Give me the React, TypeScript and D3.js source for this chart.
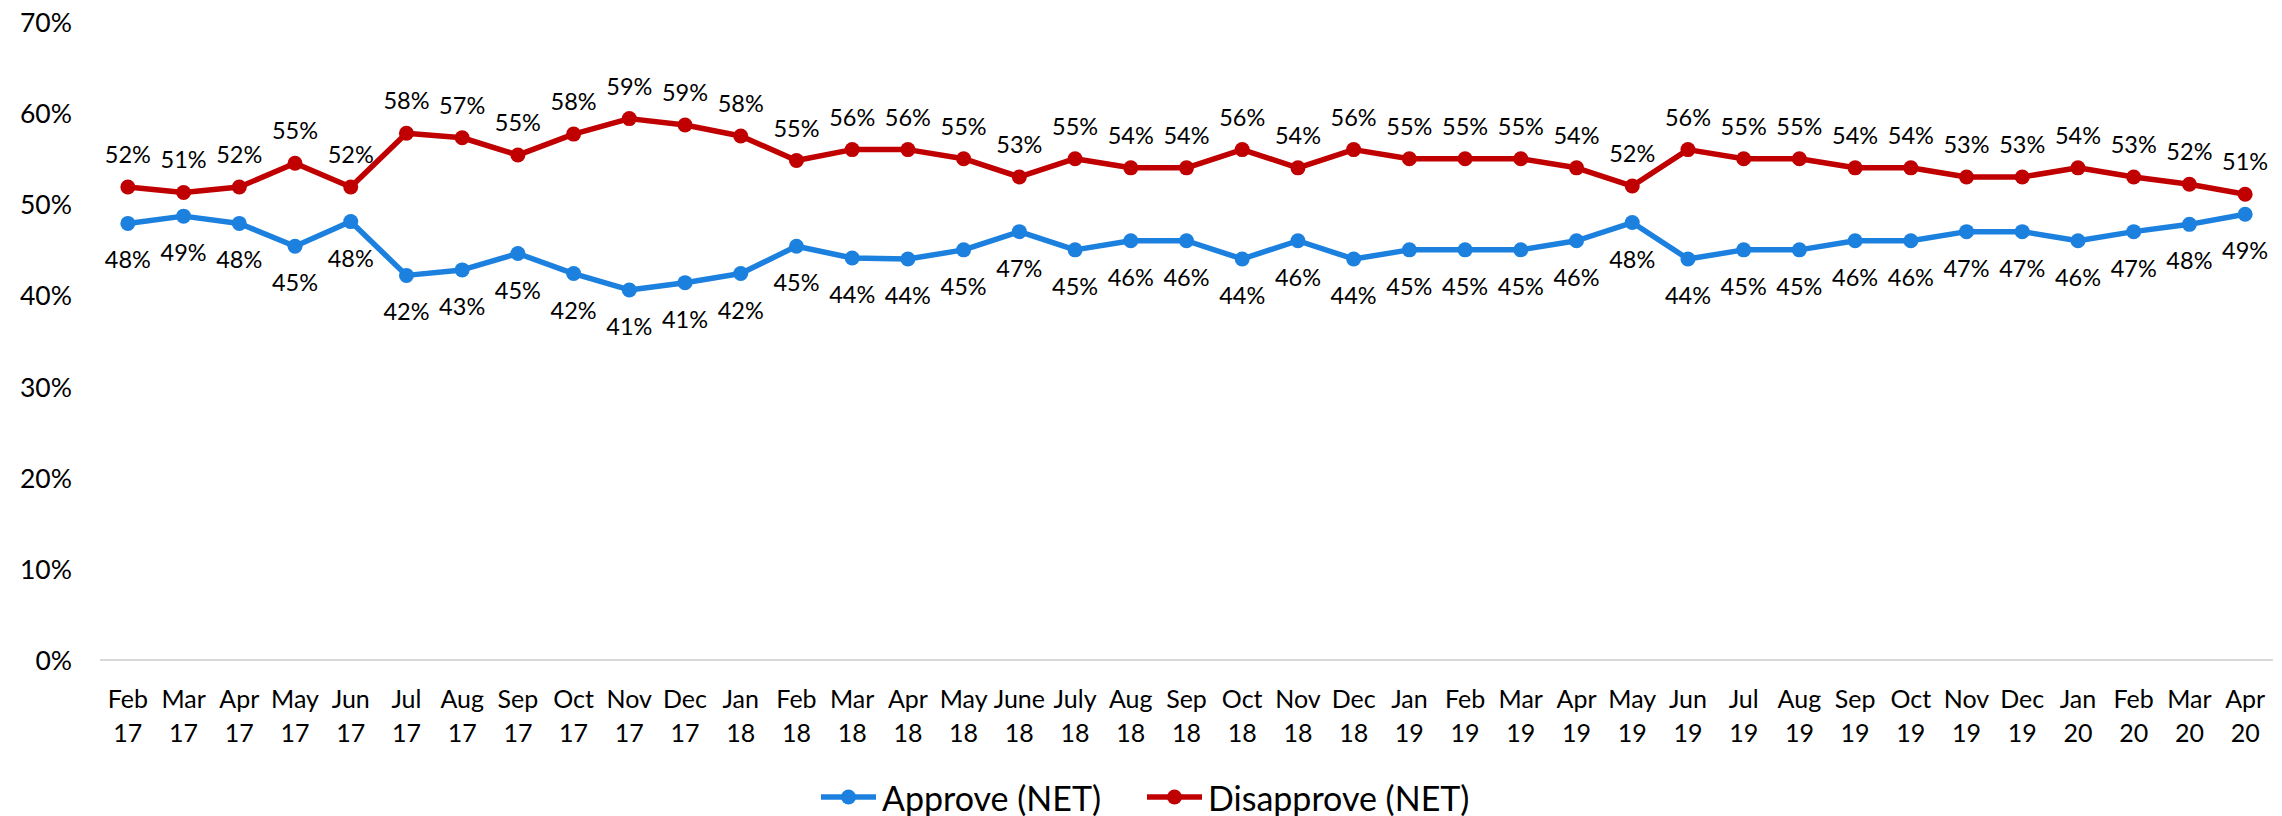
import React from "react";
import * as d3 from "d3";

const categories = [
  "Feb 17", "Mar 17", "Apr 17", "May 17", "Jun 17", "Jul 17", "Aug 17", "Sep 17", "Oct 17", "Nov 17", "Dec 17", "Jan 18",
  "Feb 18", "Mar 18", "Apr 18", "May 18", "June 18", "July 18", "Aug 18", "Sep 18", "Oct 18", "Nov 18", "Dec 18", "Jan 19",
  "Feb 19", "Mar 19", "Apr 19", "May 19", "Jun 19", "Jul 19", "Aug 19", "Sep 19", "Oct 19", "Nov 19", "Dec 19", "Jan 20",
  "Feb 20", "Mar 20", "Apr 20",
];

const approve = [
  47.9, 48.7, 47.9, 45.4, 48.1, 42.2, 42.8, 44.6, 42.4, 40.6, 41.4, 42.4,
  45.4, 44.1, 44, 45, 47, 45, 46, 46, 44, 46, 44, 45,
  45, 45, 46, 48, 44, 45, 45, 46, 46, 47, 47, 46,
  47, 47.8, 48.9,
];

const disapprove = [
  51.9, 51.3, 51.9, 54.5, 51.9, 57.8, 57.3, 55.4, 57.7, 59.4, 58.7, 57.5,
  54.8, 56, 56, 55, 53, 55, 54, 54, 56, 54, 56, 55,
  55, 55, 54, 52, 56, 55, 55, 54, 54, 53, 53, 54,
  53, 52.2, 51.1,
];

const yTicks = [0, 10, 20, 30, 40, 50, 60, 70];

const seriesNames = ["Approve (NET)", "Disapprove (NET)"];
const seriesColors = ["#1C80DF", "#C00000"];

const FONT = "Lato, 'Open Sans', sans-serif";

export default function App() {
  const W = 2282;
  const H = 816;
  const left = 100;
  const right = 2273;
  const yTop = 22;
  const yBottom = 660;

  const x = d3.scaleBand<string>().domain(categories).range([left, right]).padding(0);
  const y = d3.scaleLinear().domain([0, 70]).range([yBottom, yTop]);
  const cx = (c: string) => (x(c) as number) + x.bandwidth() / 2;

  const line = d3
    .line<number>()
    .x((_, i) => cx(categories[i]))
    .y((d) => y(d));

  const series = [approve, disapprove];

  return (
    <svg
      width={W}
      height={H}
      style={{ position: "absolute", left: 0, top: 0, background: "#fff" }}
      fontFamily={FONT}
    >
      <rect x={0} y={0} width={W} height={H} fill="#fff" />
      {/* baseline */}
      <line x1={left} x2={right} y1={y(0)} y2={y(0)} stroke="#d9d9d9" strokeWidth={2} />

      {/* y axis labels */}
      {yTicks.map((t) => (
        <text key={t} x={72} y={y(t)} textAnchor="end" dominantBaseline="central" fontSize={26.5} fill="#000">
          {t}%
        </text>
      ))}

      {/* x axis labels */}
      {categories.map((c) => {
        const [m, yr] = c.split(" ");
        return (
          <text key={c} x={cx(c)} textAnchor="middle" fontSize={25} fill="#000">
            <tspan x={cx(c)} y={708}>{m}</tspan>
            <tspan x={cx(c)} y={742}>{yr}</tspan>
          </text>
        );
      })}

      {/* lines */}
      {series.map((s, si) => (
        <g key={si}>
          <path d={line(s) || ""} fill="none" stroke={seriesColors[si]} strokeWidth={5.5} strokeLinejoin="round" />
          {s.map((v, i) => (
            <circle key={i} cx={cx(categories[i])} cy={y(v)} r={7.5} fill={seriesColors[si]} />
          ))}
          {s.map((v, i) => (
            <text
              key={"l" + i}
              x={cx(categories[i])}
              y={si === 0 ? y(v) + 36 : y(v) - 33}
              textAnchor="middle"
              dominantBaseline="central"
              fontSize={23.5}
              fill="#000"
            >
              {Math.round(v)}%
            </text>
          ))}
        </g>
      ))}

      {/* legend */}
      {seriesNames.map((n, i) => {
        const x0 = i === 0 ? 821 : 1147;
        const yy = 797;
        return (
          <g key={n}>
            <line x1={x0} x2={x0 + 55} y1={yy} y2={yy} stroke={seriesColors[i]} strokeWidth={5.5} />
            <circle cx={x0 + 27.5} cy={yy} r={7.5} fill={seriesColors[i]} />
            <text x={x0 + 61} y={yy} dominantBaseline="central" fontSize={34} fill="#000">
              {n}
            </text>
          </g>
        );
      })}
    </svg>
  );
}
